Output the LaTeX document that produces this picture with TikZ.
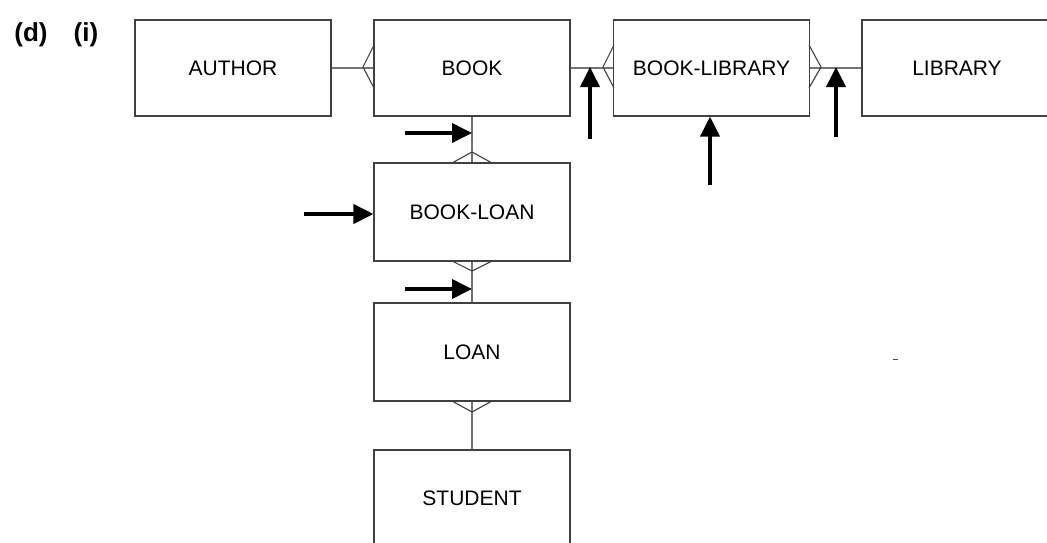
\documentclass[tikz,border=0pt]{standalone}
\usepackage{fontspec}
\setmainfont{Liberation Sans}
\usetikzlibrary{arrows.meta}
\begin{document}
\begin{tikzpicture}[x=1pt,y=-1pt,
  entity/.style={draw=black!75, line width=1.1pt, minimum width=196pt, inner sep=0pt, font=\fontsize{21}{24}\selectfont},
  conn/.style={draw=black!55, line width=1.1pt},
  crow/.style={draw=black!75, line width=1.1pt},
  bigarrow/.style={line width=3.8pt, -{Triangle[length=20pt,width=19pt]}},
  title/.style={font=\fontsize{26}{30}\selectfont\bfseries, inner sep=0pt}]
\useasboundingbox (0,0) rectangle (1047,542);
% title
\node[title] (d) at (31,35) {(d)};
\node[title] (i) at (86,35) {(i)};
% entities
\node[entity, minimum height=96pt] (author) at (233,68) {AUTHOR};
\node[entity, minimum height=96pt] (book) at (472,68) {BOOK};
\node[entity, minimum height=96pt] (booklib) at (711.5,68) {BOOK-LIBRARY};
\node[entity, minimum height=96pt, minimum width=190pt] (library) at (957,68) {LIBRARY};
\node[entity, minimum height=98pt] (bookloan) at (472,212) {BOOK-LOAN};
\node[entity, minimum height=98pt] (loan) at (472,352) {LOAN};
\node[entity, minimum height=96pt] (student) at (472,498) {STUDENT};
% connectors
\draw[conn] (author.east) -- (book.west);
\draw[conn] (book.east) -- (booklib.west);
\draw[conn] (booklib.east) -- (library.west);
\draw[conn] (book.south) -- (bookloan.north);
\draw[conn] (bookloan.south) -- (loan.north);
\draw[conn] (loan.south) -- (student.north);
% crow's feet
\draw[crow] (374,45) -- (363,67) -- (374,88);
\draw[crow] (614,45) -- (603,67) -- (614,88);
\draw[crow] (809,45) -- (821,67) -- (809,88);
\draw[crow] (452,163) -- (472,152) -- (492,163);
\draw[crow] (452,261) -- (472,271) -- (492,261);
\draw[crow] (452,401) -- (472,412) -- (492,401);
% arrows
\coordinate (a1t) at (405,133); \coordinate (a1h) at (472,133);
\coordinate (a2t) at (304,214);
\coordinate (a3t) at (405,289); \coordinate (a3h) at (472,289);
\coordinate (a4t) at (590,139); \coordinate (a4h) at (590,67);
\coordinate (a5t) at (710,185);
\coordinate (a6t) at (836,137); \coordinate (a6h) at (836,67);
\draw[bigarrow] (a1t) -- (a1h);
\draw[bigarrow] (a2t) -- (a2t -| bookloan.west);
\draw[bigarrow] (a3t) -- (a3h);
\draw[bigarrow] (a4t) -- (a4h);
\draw[bigarrow] (a5t) -- (a5t |- booklib.south);
\draw[bigarrow] (a6t) -- (a6h);
% small dash
\coordinate (m1) at (893,359); \coordinate (m2) at (898,359);
\draw[line width=1pt, black!70] (m1) -- (m2);
\end{tikzpicture}
\end{document}
